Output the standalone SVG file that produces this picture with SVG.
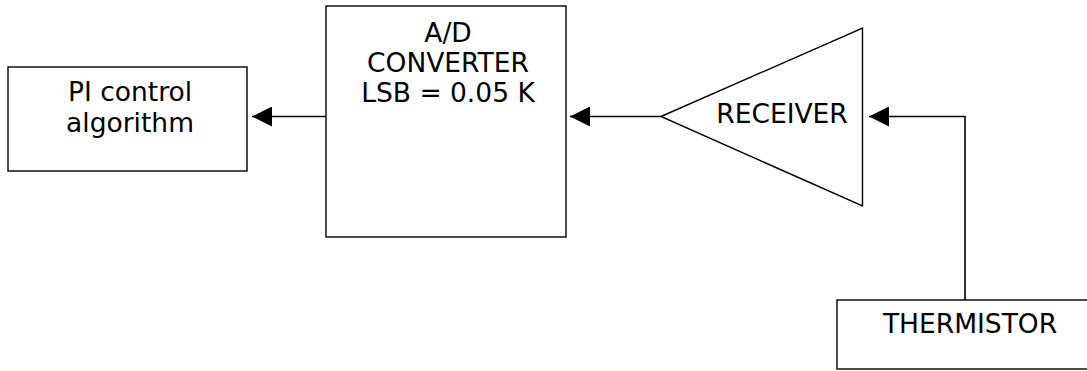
<svg xmlns="http://www.w3.org/2000/svg" width="1087" height="371" viewBox="0 0 1087 371">
<style>
.box{fill:#fff;stroke:#000;stroke-width:1.4}
.lbl{font-family:"DejaVu Sans",Verdana,sans-serif;font-size:26.5px;fill:#000;text-anchor:middle}
.wire{fill:none;stroke:#000;stroke-width:1.6}
</style>
<defs>
<marker id="ah" markerUnits="userSpaceOnUse" markerWidth="20" markerHeight="20" viewBox="0 0 20 20" refX="20" refY="10" orient="auto">
<path d="M0,0 L20,10 L0,20 z" fill="#000"/>
</marker>
</defs>
<rect width="1087" height="371" fill="#fff"/>
<g id="pi">
<rect class="box" x="8" y="67" width="239" height="104"/>
<text class="lbl" x="130" y="101">PI control</text>
<text class="lbl" x="130" y="132">algorithm</text>
</g>
<g id="adc">
<rect class="box" x="326" y="6" width="240" height="231"/>
<text class="lbl" x="448" y="42">A/D</text>
<text class="lbl" x="448" y="72">CONVERTER</text>
<text class="lbl" x="448" y="102">LSB = 0.05 K</text>
</g>
<g id="receiver">
<polygon class="box" points="661,116.5 862.5,28 862.5,206"/>
<text class="lbl" x="782" y="123">RECEIVER</text>
</g>
<g id="thermistor">
<rect class="box" x="837" y="300" width="270" height="69"/>
<text class="lbl" x="970" y="333">THERMISTOR</text>
</g>
<g id="connectors">
<line class="wire" x1="326" y1="116.5" x2="252" y2="116.5" marker-end="url(#ah)"/>
<line class="wire" x1="661" y1="116.5" x2="570" y2="116.5" marker-end="url(#ah)"/>
<polyline class="wire" points="965,300 965,116.5 869,116.5" marker-end="url(#ah)"/>
</g>
</svg>
